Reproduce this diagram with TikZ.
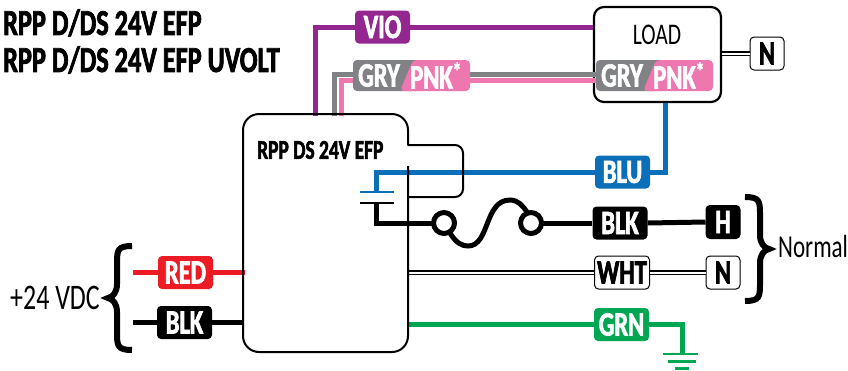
\documentclass[tikz,border=0pt]{standalone}
\usepackage{fontspec}
\setmainfont[FakeStretch=0.72,BoldFeatures={FakeBold=2}]{Carlito}
\definecolor{viocol}{HTML}{93278F}
\definecolor{grycol}{HTML}{808285}
\definecolor{pnkcol}{HTML}{EE77B0}
\definecolor{blucol}{HTML}{0B6EB8}
\definecolor{redcol}{HTML}{ED1C24}
\definecolor{grncol}{HTML}{00A651}
\tikzset{
  tag/.style={minimum width=55pt,minimum height=33pt,inner sep=0pt,rounded corners=4pt,
    font=\fontsize{34}{34}\selectfont\bfseries,text=white},
  endtag/.style={tag,minimum width=34pt,draw=black,line width=1pt,text=black,fill=white},
  wire/.style={line width=5pt},
  whtwire/.style={double=white,double distance=2pt,draw=black,line width=1.2pt},
  box/.style={draw=black,line width=2.2pt,rounded corners=10pt},
  title/.style={anchor=west,inner sep=0pt,font=\fontsize{36.5}{36.5}\selectfont\bfseries},
  thin label/.style={inner sep=0pt,font=\fontsize{30}{30}\selectfont}
}
\begin{document}
\begin{tikzpicture}[x=1pt,y=-1pt]
  \useasboundingbox (0,0) rectangle (848,370);
  % titles
  \node[title] (title1) at (3,23) {RPP D/DS 24V EFP};
  \node[title] (title2) at (3,60) {RPP D/DS 24V EFP UVOLT};
  % load
  \node[box,minimum width=127pt,minimum height=95pt,inner sep=0pt] (load) at (657.5,54.5) {};
  \node[thin label] (loadtext) at (657,35) {LOAD};
  % colour tags
  \node[tag,fill=viocol] (vio) at (382.5,27) {VIO};
  \node[tag,fill=blucol] (blu) at (622.5,172) {BLU};
  \node[tag,fill=black] (blkb) at (620,223) {BLK};
  \node[tag,draw=black,line width=1pt,fill=white,text=black] (wht) at (622,272.5) {WHT};
  \node[tag,fill=grncol] (grn) at (621.5,324.5) {GRN};
  \node[tag,fill=redcol] (red) at (185.5,272.5) {RED};
  \node[tag,fill=black] (blka) at (184.5,322.5) {BLK};
  \node[endtag,fill=black,text=white] (hot) at (723,222) {H};
  \node[endtag] (neu) at (723,272.5) {N};
  \node[endtag] (loadneu) at (767,53.5) {N};
  % wires
  \coordinate (viotop) at (315,116);
  \coordinate (grytop) at (334,116);
  \coordinate (pnktop) at (341,116);
  \coordinate (capa) at (376,192);
  \coordinate (capb) at (376,203);
  \coordinate (fusea) at (444,223);
  \coordinate (fuseb) at (531,223);
  \draw[wire,viocol] (viotop) |- (vio.west);
  \draw[wire,viocol] (vio.east) -- (load.west |- vio);
  \draw[wire,pnkcol] (pnktop) |- (355,80);
  \draw[wire,grycol] (grytop) |- (355,74.7);
  \draw[wire,grycol] (470,74.7) -- (596,74.7);
  \draw[wire,pnkcol] (470,80) -- (596,80);
  \draw[wire,blucol] (capa) |- (blu.west);
  \draw[wire,blucol] (blu.east) -| (load.south -| 665,0);
  \draw[wire,black] (capb) |- (fusea);
  \draw[wire,black] (fuseb) -- (blkb.west);
  \draw[wire,black] (blkb.east) -- (hot.west);
  \draw[whtwire] (408,272.5) -- (wht.west);
  \draw[whtwire] (wht.east) -- (neu.west);
  \draw[whtwire] (load.east |- loadneu) -- (loadneu.west);
  \draw[wire,grncol] (408,324.5) -- (grn.west);
  \draw[wire,grncol] (grn.east) -| (682,354);
  \draw[wire,redcol] (133,272.5) -- (red.west);
  \draw[wire,redcol] (red.east) -- (245,272.5);
  \draw[wire,black] (133,322.5) -- (blka.west);
  \draw[wire,black] (blka.east) -- (243,322.5);
  % split tags
  \fill[grycol,rounded corners=4pt] (353,60) rectangle (420,91);
  \fill[pnkcol,rounded corners=4pt] (413,60) -- (470,60) -- (470,91) -- (400,91) -- cycle;
  \fill[grycol,rounded corners=4pt] (596,60) rectangle (663,91);
  \fill[pnkcol,rounded corners=4pt] (656,60) -- (713,60) -- (713,91) -- (643,91) -- cycle;
  \node[tag,minimum width=0pt,minimum height=31pt] (gry) at (379,75.5) {GRY};
  \node[tag,minimum width=0pt,minimum height=31pt] (pnk) at (436,75.5) {PNK\textsuperscript{*}};
  \node[tag,minimum width=0pt,minimum height=31pt] (grytwo) at (622,75.5) {GRY};
  \node[tag,minimum width=0pt,minimum height=31pt] (pnktwo) at (679,75.5) {PNK\textsuperscript{*}};
  % capacitor
  \draw[blucol,line width=2.5pt] (360,192) -- (394,192);
  \draw[black,line width=2.5pt] (360,203) -- (394,203);
  % fuse
  \draw[black,line width=5pt,fill=white] (fusea) circle (10.5pt);
  \draw[black,line width=5pt,fill=white] (fuseb) circle (10.5pt);
  \draw[black,line width=5pt] (450,233) .. controls (456,243) and (462,246) .. (468,246)
    .. controls (490,246) and (484,200) .. (510,200)
    .. controls (518,200) and (523,206) .. (527,212);
  % ground
  \draw[grncol,line width=2.8pt] (663,354) -- (698,354);
  \draw[grncol,line width=2.8pt] (668,361.5) -- (696,361.5);
  \draw[grncol,line width=2.8pt] (675,368.5) -- (689,368.5);
  % body
  \draw[black,line width=2pt,rounded corners=16pt] (408,145.5) -- (408,114) -- (243,114) -- (243,352) -- (408,352) -- (408,166);
  \draw[black,line width=2pt,rounded corners=8pt] (408,145) -- (463,145) -- (463,197) -- (408,197);
  \node[anchor=west,inner sep=0pt,font=\fontsize{27}{27}\selectfont\bfseries] (bodytext) at (257,150) {RPP DS 24V EFP};
  % braces
  \node[thin label,font=\fontsize{36}{36}\selectfont] (supply) at (55,298) {+24 VDC};
  \node[thin label,anchor=west,font=\fontsize{32}{32}\selectfont] (normal) at (778,247) {Normal};
  \draw[black,line width=6pt] (132,246) .. controls (118,246) and (117,250) .. (117,262)
    -- (117,284) .. controls (117,292) and (113,297) .. (108,298)
    .. controls (113,299) and (117,304) .. (117,312) -- (117,334)
    .. controls (117,346) and (118,350) .. (132,350);
  \draw[black,line width=6pt] (745,197) .. controls (759,197) and (760,201) .. (760,213)
    -- (760,235) .. controls (760,243) and (764,248) .. (769,249)
    .. controls (764,250) and (760,255) .. (760,263) -- (760,285)
    .. controls (760,297) and (759,301) .. (745,301);
\end{tikzpicture}
\end{document}
